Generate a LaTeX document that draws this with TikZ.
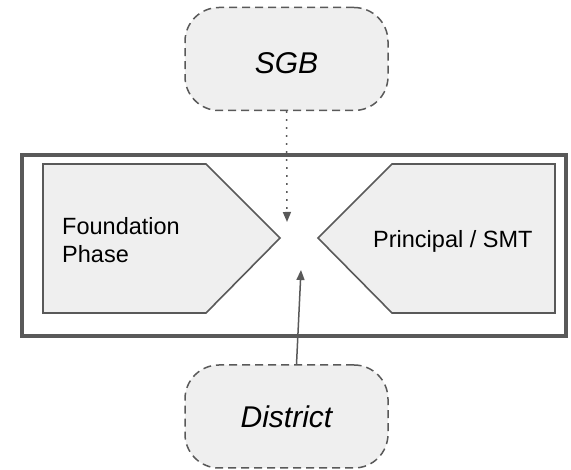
\documentclass[tikz,border=0pt]{standalone}
\usepackage{fontspec}
\setmainfont{Liberation Sans}
\usetikzlibrary{arrows.meta}

\definecolor{edgegray}{HTML}{595959}
\definecolor{boxfill}{HTML}{EFEFEF}

\tikzset{
  actor/.style={draw=edgegray, fill=boxfill, line width=1.5pt,
    dash pattern=on 8pt off 5pt, rounded corners=34pt,
    minimum width=203pt, minimum height=103pt,
    font=\fontsize{30}{36}\selectfont\itshape},
  phase/.style={draw=edgegray, fill=boxfill, line width=1.6pt},
  frame/.style={draw=edgegray, line width=3.8pt},
  label/.style={font=\fontsize{23.5}{28}\selectfont, inner sep=0pt},
  tip/.style={-{Triangle[width=8pt,length=10pt]}, draw=edgegray, line width=1.5pt}
}

\begin{document}
\begin{tikzpicture}[x=1pt,y=1pt]
  \useasboundingbox (0,0) rectangle (571,470);

  % outer frame
  \draw[frame] (22,134) rectangle (566,315);

  % the two phases
  \draw[phase] (43,157) -- (206,157) -- (280,232) -- (206,306) -- (43,306) -- cycle;
  \draw[phase] (555,157) -- (392,157) -- (318,232) -- (392,306) -- (555,306) -- cycle;
  \node[label, align=left, anchor=west] (found) at (62,230) {Foundation\\Phase};
  \node[label, anchor=base west] (smt) at (373,222) {Principal / SMT};

  % outside actors
  \node[actor, text height=30pt, text depth=0pt] (sgb) at (286.5,411) {SGB};
  \node[actor] (district) at (286.5,53.5) {District};

  \coordinate (gap top) at (287,248);
  \coordinate (gap bot) at (301,200);
  \draw[tip, dash pattern=on 1.6pt off 6.4pt] (sgb.south) -- (gap top);
  \draw[tip] ([xshift=10pt]district.north) -- (gap bot);
\end{tikzpicture}
\end{document}
